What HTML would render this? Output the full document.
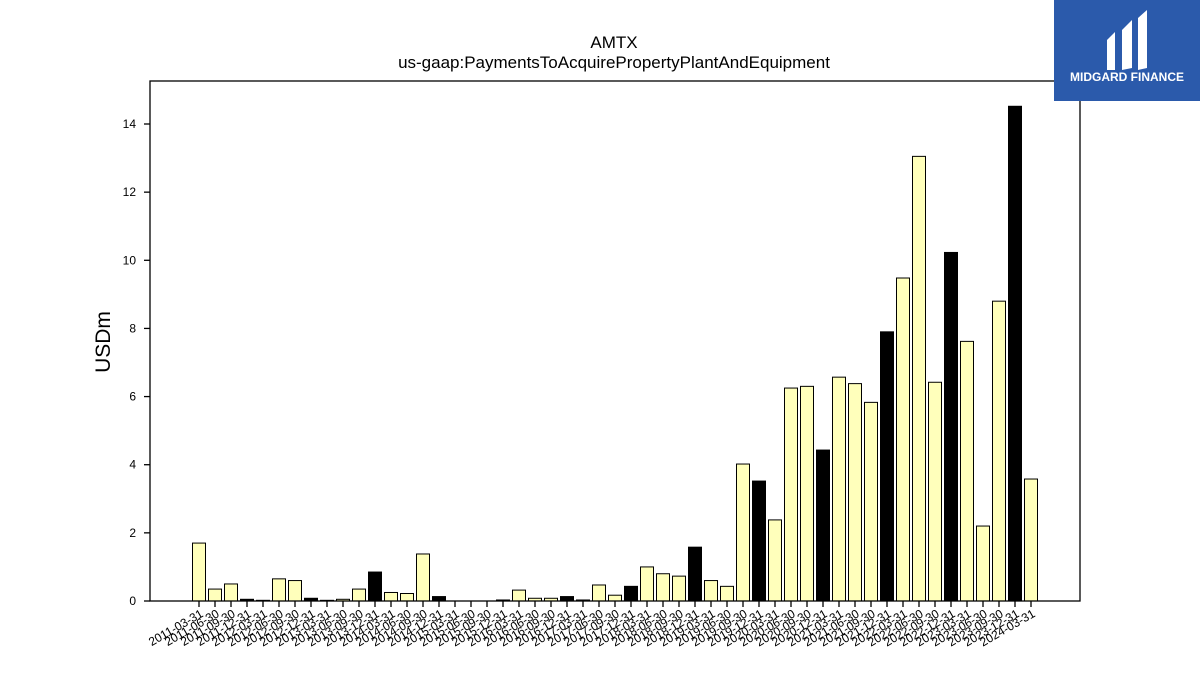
<!DOCTYPE html>
<html><head><meta charset="utf-8"><style>
body{margin:0;background:#fff;font-family:"Liberation Sans","DejaVu Sans",sans-serif;}
svg{display:block}
</style></head><body>
<svg id="chart" width="1200" height="675">
<text x="614" y="48" text-anchor="middle" font-size="17">AMTX</text>
<text x="614" y="68" text-anchor="middle" font-size="17">us-gaap:PaymentsToAcquirePropertyPlantAndEquipment</text>
<text transform="translate(110,342) rotate(-90)" text-anchor="middle" font-size="21">USDm</text>
<g id="bars"></g>
<g id="yaxis"></g>
<g id="xaxis"></g>
<rect x="150" y="81" width="930" height="520" fill="none" stroke="#000" stroke-width="1.3"/>
<g>
<rect x="1054" y="0" width="146" height="101" fill="#2b5aab"/>
<path d="M1107 40 L1115 32 L1115 70 L1107 70 Z M1122 30 L1132 20 L1132 68 L1122 70 Z M1138 18 L1147 10 L1147 68 L1138 70 Z" fill="#fff"/>
<text x="1127" y="81" text-anchor="middle" font-size="12" font-weight="bold" fill="#fff">MIDGARD FINANCE</text>
</g>
</svg>
<script>
const categories=[];
(function(){const q=["03-31","06-30","09-30","12-31"];for(let y=2011;y<=2024;y++)for(const d of q){if(y===2024&&d!=="03-31")break;categories.push(y+"-"+d);}})();
const values=[1.7,0.35,0.5,0.05,0.02,0.65,0.6,0.08,0.02,0.05,0.35,0.85,0.25,0.22,1.38,0.13,0,0,0,0.03,0.32,0.08,0.08,0.13,0.03,0.47,0.17,0.43,1.0,0.8,0.73,1.58,0.6,0.43,4.02,3.52,2.38,6.25,6.3,4.43,6.57,6.38,5.83,7.9,9.48,13.05,6.42,10.23,7.62,2.2,8.8,14.52,3.58];
const yTicks=[0,2,4,6,8,10,12,14];
const NS="http://www.w3.org/2000/svg";
const y0=601,yPer=(601-124)/14;
const yS=v=>y0-v*yPer;
const xS=i=>199+i*16;
const bars=document.getElementById('bars'),ya=document.getElementById('yaxis'),xa=document.getElementById('xaxis');
function mk(t,a,p){const e=document.createElementNS(NS,t);for(const k in a)e.setAttribute(k,a[k]);p.appendChild(e);return e;}
values.forEach((v,i)=>{
 const r=mk('rect',{x:xS(i)-6.5,y:yS(v),width:13,height:Math.max(0,y0-yS(v)),fill:categories[i].endsWith("12-31")?"#000":"#ffffbb",stroke:"#000","stroke-width":1},bars);
 
 
 const t=mk('line',{x1:xS(i),x2:xS(i),y1:601,y2:607,stroke:"#000","stroke-width":1.3},xa);
 
 
 const l=mk('text',{x:0,y:0,"text-anchor":"end","font-size":12,transform:`translate(${xS(i)+5},616) rotate(-30)`},xa);
 l.textContent=categories[i];
 
 
});
yTicks.forEach(v=>{
 const t=mk('line',{x1:144,x2:150,y1:yS(v),y2:yS(v),stroke:"#000","stroke-width":1.3},ya);
 
 
 const l=mk('text',{x:136,y:yS(v)+4,"text-anchor":"end","font-size":12},ya);
 l.textContent=v;
 
 
});
</script>
</body></html>
